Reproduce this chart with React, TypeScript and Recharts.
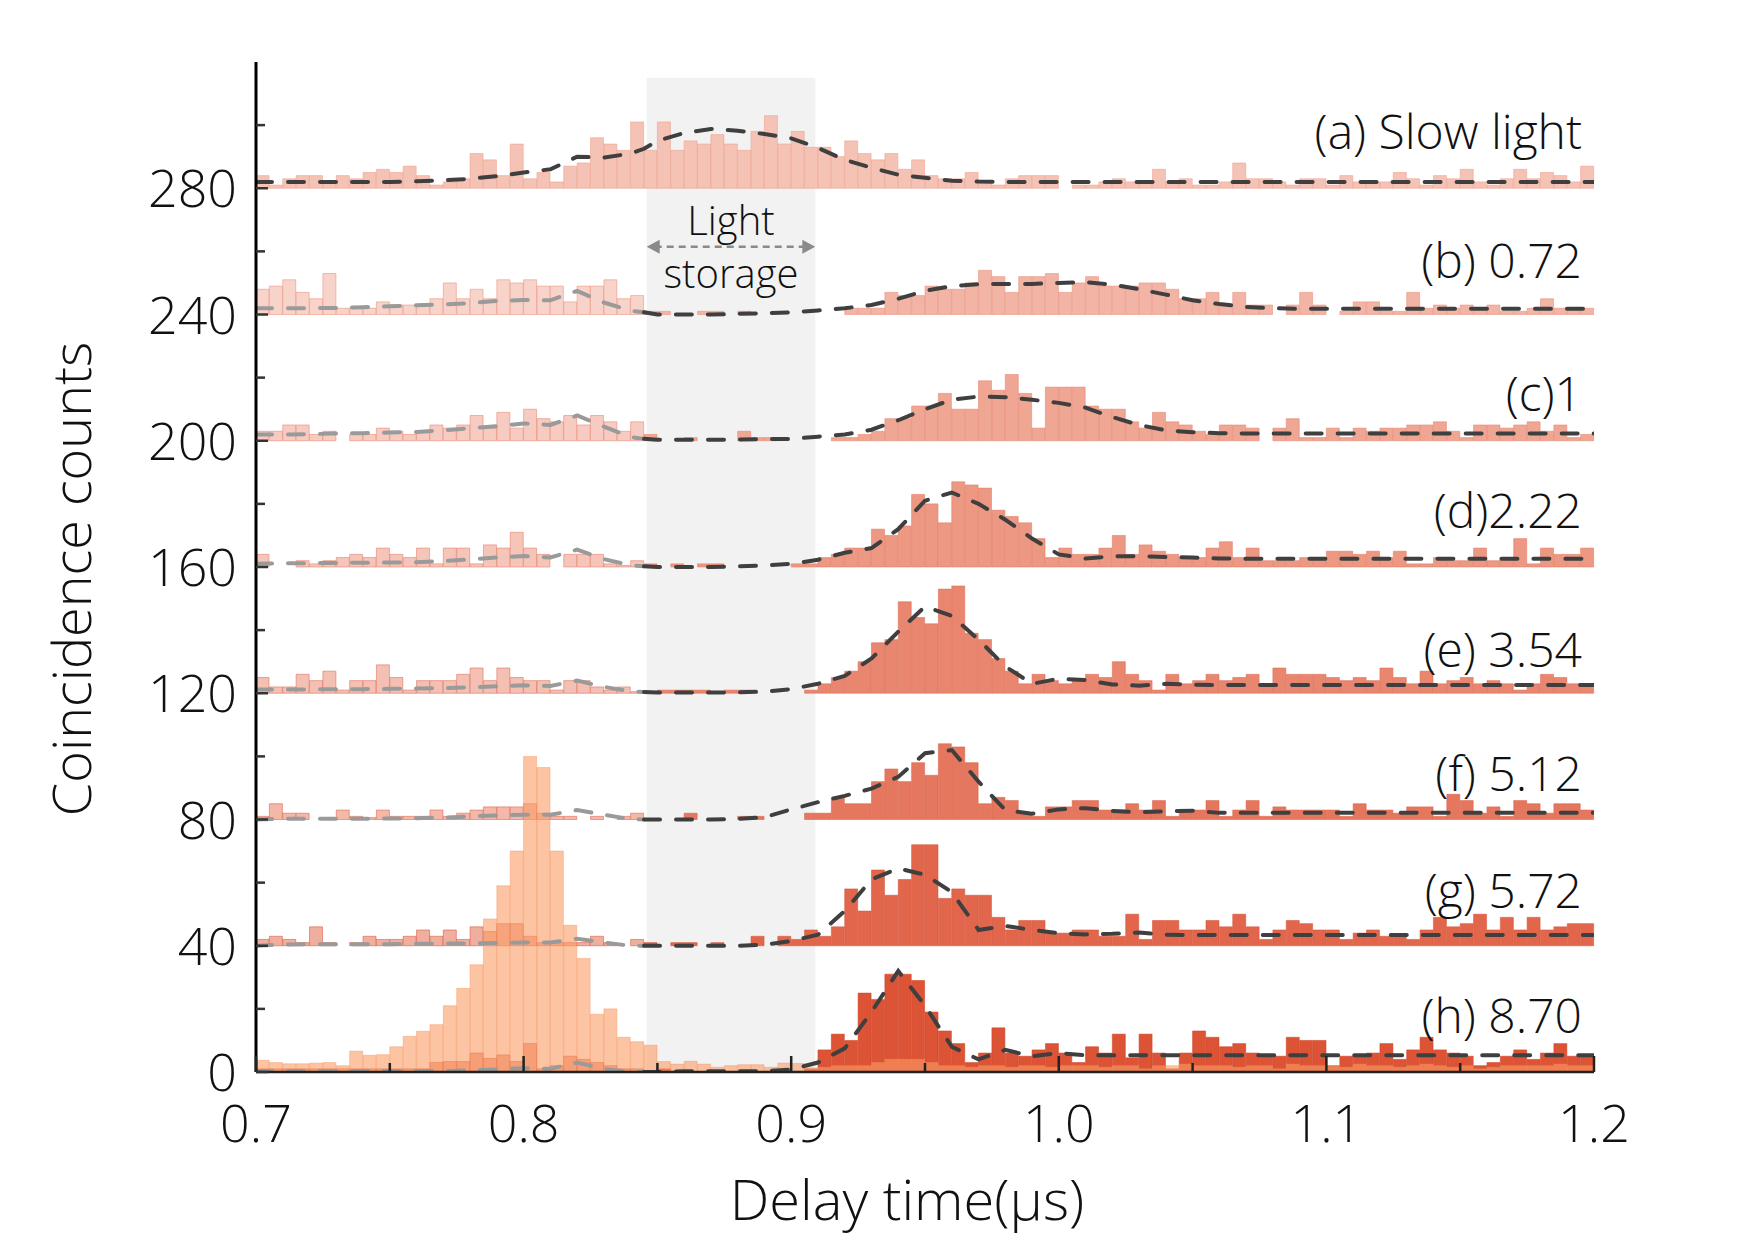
import React from "react";
import {
  ComposedChart,
  Bar,
  Line,
  XAxis,
  YAxis,
  Cell,
  ReferenceArea,
  ReferenceLine,
  ReferenceDot,
} from "recharts";

const FONT = "'Open Sans', 'DejaVu Sans', sans-serif";
const WEIGHT = 300;

// 5 ns histogram bins from 0.70 to 1.20 us; bins left of the storage window are faded
const BIN_COUNT = 100;
const FADED_BEFORE_BIN = 29;

const OFFSETS = [280, 240, 200, 160, 120, 80, 40, 0];
const SERIES_LABELS = ["(a) Slow light", "(b) 0.72", "(c)1", "(d)2.22", "(e) 3.54", "(f) 5.12", "(g) 5.72", "(h) 8.70"];

const COUNTS_A = [
  4, 1, 3, 4, 4, 2, 4, 3, 5, 6, 5, 7, 4, 1, 2, 3, 11, 9, 4, 14, 3, 5, 2, 7, 8, 16, 14, 12, 21, 12,
  21, 12, 15, 14, 17, 14, 12, 18, 23, 14, 18, 13, 13, 10,
  15, 11, 9, 11, 6, 9, 4, 3, 3, 5, 2, 1, 3, 4, 4, 4, 0, 1, 1, 2, 3, 2, 2, 6, 2, 3, 1, 1, 2, 8,
  3, 3, 2, 1, 3, 3, 1, 4, 2, 2, 2, 5, 3, 1, 4, 3, 6, 2, 1, 3, 6, 3, 5, 4, 2, 7,
];
const COUNTS_B = [
  8, 9, 11, 7, 5, 13, 2, 2, 2, 4, 3, 3, 3, 5, 10, 5, 8, 5, 11, 10, 11, 9, 9, 4, 9, 9, 11, 5, 6,
  1, 1, 0, 0, 1, 1, 0, 1, 0, 0, 0, 0, 0, 0, 0,
  2, 2, 2, 7, 6, 6, 9, 8, 8, 10, 14, 12, 7, 12, 12, 13, 7, 10, 12, 9, 9, 9, 10, 10, 8, 5, 5, 7, 3, 7,
  3, 3, 0, 3, 7, 3, 0, 1, 4, 4, 1, 1, 7, 2, 3, 2, 3, 2, 3, 1, 1, 2, 5, 2, 2, 2,
];
const COUNTS_C = [
  3, 3, 5, 5, 2, 3, 0, 2, 2, 4, 3, 2, 3, 5, 4, 5, 8, 4, 9, 4, 10, 7, 6, 8, 5, 8, 6, 3, 6,
  2, 0, 0, 1, 0, 0, 0, 3, 1, 1, 0, 0, 0, 0, 1,
  1, 2, 3, 7, 7, 11, 11, 15, 10, 10, 19, 16, 21, 15, 4, 17, 17, 17, 11, 10, 10, 6, 4, 9, 6, 5, 3, 2, 5, 5,
  4, 0, 4, 7, 1, 1, 4, 1, 4, 3, 4, 4, 5, 5, 6, 3, 1, 5, 5, 4, 5, 6, 3, 5, 1, 2,
];
const COUNTS_D = [
  4, 0, 0, 2, 1, 2, 3, 4, 3, 6, 4, 3, 6, 1, 6, 6, 1, 7, 6, 11, 6, 4, 0, 4, 4, 4, 1, 0.5, 2,
  1, 0, 1, 0, 1, 1, 0, 0, 0, 0, 0, 1, 1, 3, 4,
  6, 6, 12, 10, 13, 23, 20, 14, 27, 26, 25, 18, 16, 14, 9, 3, 6, 4, 4, 6, 10, 4, 7, 5, 4, 3, 3, 6, 8, 3,
  6, 2, 2, 2, 3, 3, 5, 5, 4, 5, 3, 5, 1, 1, 3, 2, 2, 6, 2, 3, 9, 1, 6, 4, 4, 6,
];
const COUNTS_E = [
  5, 2, 2, 6, 4, 7, 1, 4, 4, 9, 5, 1, 4, 4, 4, 6, 8, 4, 8, 5, 4, 4, 1, 4, 4, 2, 1, 2, 0.5,
  0, 1, 1, 1, 1, 0, 1, 1, 0, 0, 0, 0, 1, 3, 5,
  7, 10, 16, 17, 29, 24, 22, 33, 34, 19, 17, 11, 7, 3, 6, 4, 3, 4, 6, 5, 10, 6, 4, 1, 6, 3, 4, 6, 4, 5,
  6, 3, 8, 6, 6, 6, 5, 4, 5, 4, 8, 5, 3, 7, 3, 4, 5, 3, 4, 3, 1, 3, 6, 5, 3, 3,
];
const COUNTS_F = [
  1, 5, 2, 2, 0, 0, 3, 1, 0.6, 3, 1, 1, 1, 3, 1, 2, 3, 4, 4, 4, 5, 2, 1, 1, 0, 1, 0, 1, 2,
  0, 0, 0, 2, 0, 0, 0, 1, 1, 0, 0, 0, 2, 2, 7,
  5, 5, 12, 16, 12, 18, 14, 24, 23, 18, 5, 7, 6, 2, 1, 4, 4, 6, 6, 3, 3, 5, 3, 6, 1, 3, 3, 6, 1, 3,
  6, 1, 4, 3, 3, 3, 3, 1, 5, 3, 3, 2, 4, 4, 1, 8, 6, 2, 4, 1, 6, 5, 2, 5, 5, 3,
];
const COUNTS_G = [
  2, 3, 2, 1, 6, 1, 0, 1, 3, 2, 2, 3, 5, 3, 5, 2, 6, 4.5, 7, 7, 3, 1, 1, 1, 1, 3, 1, 0, 2,
  1, 0, 1, 1, 0, 1, 0, 0, 3, 0, 3, 2, 5, 3, 6,
  18, 11, 24, 16, 21, 32, 32, 15, 18, 16, 16, 9, 5, 8, 8, 4, 4, 5, 5, 3, 3, 10, 2, 8, 8, 5, 5, 8, 6, 10,
  6, 2, 5, 8, 7, 5, 5, 2, 4, 5, 3, 3, 2, 5, 9, 6, 7, 10, 5, 9, 5, 9, 5, 6, 7, 7,
];
const COUNTS_H = [
  1, 1, 1, 1, 1, 1, 1, 1, 1, 1, 1, 1, 1, 3, 3.3, 3.3, 6, 4.3, 5.4, 3.3, 9, 1, 2, 5, 4, 3, 2, 1, 1,
  0, 1, 0, 0, 0, 0, 0, 0, 0, 0, 0, 0, 1, 7, 12,
  10, 25, 23, 31, 31, 29, 19, 13, 9, 3, 6, 14, 6, 5, 7, 9, 6, 3, 8, 6, 12, 4.5, 12, 6, 1, 6, 13, 11, 8, 9,
  6, 5, 5, 11, 10, 10, 2, 5, 5, 6, 9, 4, 7, 11, 7, 6, 5, 2, 3, 5, 7, 4, 6, 9, 5, 5,
];
// input (reference) pulse, drawn over the (h) trace
const COUNTS_PROBE = [
  3.7, 3, 2.6, 2.6, 2.8, 3, 2, 6.6, 5.3, 5.5, 8, 11.3, 12.9,
  15, 21, 26.5, 34, 48.5, 59, 70, 100, 96.5, 70, 46.5, 36, 18.3, 20, 11, 9.6, 8.5,
  3.3, 2.5, 3.4, 2.5, 1.5, 2, 2.3, 2.3, 1.5, 2.8, 2.7, 1.3, 1.5, 2,
  2, 2, 3, 4, 4, 4, 3, 2, 2, 1.5, 2, 2, 1.5, 2, 2, 1.5, 2, 2, 2, 1.5, 2, 2, 1, 2, 2, 2.5, 2, 2, 2, 1.5,
  2, 2, 1, 2.5, 2, 2, 2, 1.5, 2.5, 2, 2, 1.5, 2, 2.5, 2, 1.5, 2, 1, 1.5, 2, 2, 2, 2, 2.5, 2, 2,
];

// fitted curves, sampled every 10 ns (plus the storage-window edge at 0.845)
const FIT_X = [
  0.7, 0.71, 0.72, 0.73, 0.74, 0.75, 0.76, 0.77, 0.78, 0.79, 0.8, 0.81, 0.82, 0.83, 0.84, 0.845,
  0.85, 0.86, 0.87, 0.88, 0.89, 0.9, 0.91, 0.92, 0.93, 0.94, 0.95, 0.96, 0.97, 0.98, 0.99, 1.0,
  1.01, 1.02, 1.03, 1.04, 1.05, 1.06, 1.07, 1.08, 1.09, 1.1, 1.11, 1.12, 1.13, 1.14, 1.15, 1.16,
  1.17, 1.18, 1.19, 1.2,
];
const FIT_A = [
  2, 2, 2, 2, 2, 2, 2.2, 2.5, 3, 3.8, 5, 6, 10, 9.7, 11, 12.5,
  15, 17.5, 18.8, 18.2, 17.2, 15.8, 12.8, 9, 6.5, 4.3, 3.3, 2.4, 2.1, 2, 2, 2,
  2, 2, 2, 2, 2, 2, 2, 2, 2, 2, 2, 2, 2, 2, 2, 2, 2, 2, 2, 2,
];
const FIT_B = [
  2, 2, 2, 2.1, 2.3, 2.6, 2.9, 3.2, 3.6, 4.3, 4.6, 4.5, 7.5, 3.8, 1.2, 0.7,
  0, 0, 0, 0.2, 0.4, 0.7, 1.3, 2, 3, 5, 7.5, 9, 9.6, 9.7, 9.7, 10,
  10.2, 9.5, 8, 6.3, 4.5, 3.3, 2.4, 2, 1.8, 1.8, 1.8, 1.8, 1.8, 1.8, 1.8, 1.8, 1.8, 1.8, 1.8, 1.8,
];
const FIT_C = [
  2, 2, 2.1, 2.3, 2.4, 2.6, 2.8, 3.3, 4, 4.6, 5.5, 5, 8, 4.5, 1.2, 0.6,
  0.3, 0.3, 0.3, 0.4, 0.5, 0.6, 1.3, 2, 3.5, 6.5, 10, 13, 14, 13.8, 13, 12,
  10.5, 7.5, 5, 3.3, 2.7, 2.4, 2.3, 2.3, 2.3, 2.3, 2.3, 2.3, 2.3, 2.3, 2.3, 2.3, 2.3, 2.3, 2.3, 2.3,
];
const FIT_D = [
  1.05, 1.2, 1.2, 1.3, 1.35, 1.4, 1.5, 1.9, 2.4, 3, 3.5, 3, 5.5, 2.5, 0.5, 0.2,
  0, 0, 0, 0.2, 0.5, 1, 2.3, 4.5, 6, 12, 21, 23.6, 20, 15, 9, 4,
  2.7, 3.4, 3.4, 3.2, 3, 2.7, 2.6, 2.6, 2.6, 2.6, 2.6, 2.6, 2.6, 2.6, 2.6, 2.6, 2.6, 2.6, 2.6, 2.6,
];
const FIT_E = [
  1.2, 1.2, 1.2, 1.3, 1.3, 1.4, 1.5, 1.6, 1.9, 2.2, 2.5, 2.3, 4, 2, 0.6, 0.4,
  0.2, 0.2, 0.2, 0.3, 0.5, 1.3, 3, 5.5, 11, 19.5, 27.5, 24.5, 17, 8.5, 3, 4.6,
  4.2, 2.8, 2.4, 3, 2.7, 2.6, 2.6, 2.6, 2.6, 2.6, 2.6, 2.6, 2.6, 2.6, 2.6, 2.6, 2.6, 2.6, 2.6, 2.6,
];
const FIT_F = [
  0, 0.2, 0.2, 0.2, 0.2, 0.3, 0.4, 0.6, 1, 1.3, 1.5, 1.5, 3, 1.5, 0.1, 0,
  0, 0, 0, 0.2, 0.7, 3.2, 5.5, 7.5, 9.8, 13.5, 21, 22, 12, 3, 1.8, 3.2,
  3.6, 2.7, 2.3, 2.6, 2.8, 2.1, 2.1, 2.1, 2.1, 2.1, 2.1, 2.1, 2.1, 2.1, 2.1, 2.1, 2.1, 2.1, 2.1, 2.1,
];
const FIT_G = [
  0, 0.4, 0.5, 0.5, 0.5, 0.5, 0.6, 0.7, 0.7, 0.9, 1, 1, 2.2, 1, 0, 0,
  0, 0, 0, 0, 0.3, 1.5, 3.5, 11, 21, 24.5, 22.5, 17, 5, 6.3, 5, 4,
  3.6, 3.8, 4.2, 3.5, 3.4, 3.4, 3.4, 3.4, 3.4, 3.4, 3.4, 3.4, 3.4, 3.4, 3.4, 3.4, 3.4, 3.4, 3.4, 3.4,
];
const FIT_H = [
  0.3, 0.3, 0.3, 0.3, 0.3, 0.3, 0.3, 0.3, 0.5, 0.8, 1.2, 1, 3, 1, 0, 0,
  0, 0.2, 0.2, 0.2, 0.2, 0.8, 3, 7.5, 19, 32, 21, 8, 4, 7, 5, 6,
  5.3, 5.3, 5.3, 5.3, 5.3, 5.3, 5.3, 5.3, 5.3, 5.3, 5.3, 5.3, 5.3, 5.3, 5.3, 5.3, 5.3, 5.3, 5.3, 5.3,
];

const X_TICKS = [0.7, 0.75, 0.8, 0.85, 0.9, 0.95, 1.0, 1.05, 1.1, 1.15, 1.2];
const Y_TICKS = [0, 20, 40, 60, 80, 100, 120, 140, 160, 180, 200, 220, 240, 260, 280, 300];

const SERIES = [
  { key: "a", counts: COUNTS_A, fit: FIT_A, full: "#f5c3b6", faded: "#f5c3b6", edge: "#ee9c89" },
  { key: "b", counts: COUNTS_B, fit: FIT_B, full: "#f2b4a5", faded: "#f8d3ca", edge: "#ea907b" },
  { key: "c", counts: COUNTS_C, fit: FIT_C, full: "#efa693", faded: "#f7cbc1", edge: "#e8846d" },
  { key: "d", counts: COUNTS_D, fit: FIT_D, full: "#ec9883", faded: "#f6c5ba", edge: "#e47a62" },
  { key: "e", counts: COUNTS_E, fit: FIT_E, full: "#e9866f", faded: "#f4c0b4", edge: "#df6c53" },
  { key: "f", counts: COUNTS_F, fit: FIT_F, full: "#e6775f", faded: "#f3b8aa", edge: "#dc6147" },
  { key: "g", counts: COUNTS_G, fit: FIT_G, full: "#e2664b", faded: "#f0ae9f", edge: "#d75339" },
  { key: "h", counts: COUNTS_H, fit: FIT_H, full: "#dc5335", faded: "#eea392", edge: "#cf4427" },
];

const LABEL_RISE = [12.5, 11.7, 9.5, 12.3, 8.3, 8.9, 12, 12.3];

const binRows = Array.from({ length: BIN_COUNT }, (_, i) => {
  const row: any = { bin: i, p: [0, COUNTS_PROBE[i]] };
  SERIES.forEach((s, k) => {
    row[s.key] = [OFFSETS[k], OFFSETS[k] + s.counts[i]];
  });
  return row;
});

const fitPoints = (fit: number[], offset: number) =>
  FIT_X.map((x, j) => ({ x, y: offset + fit[j] }));

const YTick = (p: any) => {
  const v = p.payload.value;
  const major = v % 40 === 0;
  return (
    <g>
      <line x1={p.x} x2={p.x + (major ? 12 : 9)} y1={p.y} y2={p.y} stroke="#333" strokeWidth={2.5} />
      {major && (
        <text x={p.x - 19} y={p.y + 19} textAnchor="end" fontSize={52} fontFamily={FONT} fontWeight={WEIGHT} fill="#111">
          {v}
        </text>
      )}
    </g>
  );
};

const XTick = (p: any) => {
  const v = p.payload.value;
  const major = Math.abs(v * 10 - Math.round(v * 10)) < 1e-6;
  return (
    <g>
      <line x1={p.x} x2={p.x} y1={p.y} y2={p.y - (major ? 16 : 9)} stroke="#222" strokeWidth={2.5} />
      {major && (
        <text x={p.x} y={p.y + 70} textAnchor="middle" fontSize={52} fontFamily={FONT} fontWeight={WEIGHT} fill="#111">
          {v.toFixed(1)}
        </text>
      )}
    </g>
  );
};

const yTitle = (p: any) => {
  const vb = p.viewBox;
  const cx = vb.x + 42;
  const cy = vb.y + vb.height / 2 + 12;
  return (
    <text x={cx} y={cy} transform={`rotate(-90 ${cx} ${cy})`} textAnchor="middle" dominantBaseline="central"
      fontSize={54} fontFamily={FONT} fontWeight={WEIGHT} fill="#111">
      Coincidence counts
    </text>
  );
};

const xTitle = (p: any) => {
  const vb = p.viewBox;
  return (
    <text x={vb.x + vb.width / 2 - 18} y={vb.y + 148} textAnchor="middle" fontSize={56} fontFamily={FONT}
      fontWeight={WEIGHT} fill="#111">
      Delay time(μs)
    </text>
  );
};

const textShape = (label: string, anchor: string, size: number) => (p: any) => (
  <text x={p.cx} y={p.cy} textAnchor={anchor} fontSize={size} fontFamily={FONT} fontWeight={WEIGHT} fill="#111">
    {label}
  </text>
);

const arrowHead = (dir: number) => (p: any) => (
  <polygon
    points={`${p.cx},${p.cy} ${p.cx + dir * 13},${p.cy - 7} ${p.cx + dir * 13},${p.cy + 7}`}
    fill="#8a8a8a"
  />
);

export default function App() {
  const dash = "16 16";
  return (
    <ComposedChart
      width={1739}
      height={1230}
      data={binRows}
      margin={{ top: 54, right: 153, bottom: 56, left: 20 }}
      barCategoryGap={0}
      barGap={0}
    >
      {SERIES.map((s) => (
        <XAxis key={`ax-${s.key}`} xAxisId={s.key} dataKey="bin" type="category" hide height={0} />
      ))}
      <XAxis xAxisId="p" dataKey="bin" type="category" hide height={0} />
      <XAxis
        xAxisId="num"
        dataKey="x"
        type="number"
        domain={[0.7, 1.2]}
        allowDataOverflow
        ticks={X_TICKS}
        interval={0}
        tick={<XTick />}
        tickLine={false}
        tickSize={0}
        tickMargin={0}
        axisLine={{ stroke: "#222", strokeWidth: 2.5 }}
        height={110}
        label={xTitle}
      />
      <YAxis
        type="number"
        domain={[0, 320]}
        allowDataOverflow
        ticks={Y_TICKS}
        interval={0}
        tick={<YTick />}
        tickLine={false}
        tickSize={0}
        tickMargin={0}
        width={228}
        axisLine={{ stroke: "#000", strokeWidth: 3 }}
        label={yTitle}
      />

      <ReferenceArea xAxisId="num" x1={0.846} x2={0.909} y1={0} y2={315} fill="#ededed" fillOpacity={0.75} stroke="none" />

      {SERIES.map((s) => (
        <Bar key={`bar-${s.key}`} xAxisId={s.key} dataKey={s.key} isAnimationActive={false}
          stroke={s.edge} strokeWidth={1} strokeOpacity={0.55}>
          {binRows.map((_, i) => (
            <Cell key={i} fill={i < FADED_BEFORE_BIN ? s.faded : s.full} />
          ))}
        </Bar>
      ))}
      <Bar xAxisId="p" dataKey="p" isAnimationActive={false} fill="#fb9d66" fillOpacity={0.6}
        stroke="#f58f58" strokeWidth={1} strokeOpacity={0.4} />

      {SERIES.map((s, k) => {
        const pts = fitPoints(s.fit, OFFSETS[k]);
        if (k === 0) {
          return (
            <Line key={`fit-${s.key}`} xAxisId="num" data={pts} dataKey="y" type="linear" dot={false}
              stroke="#3f3f3f" strokeWidth={4} strokeDasharray={dash} strokeLinecap="round" isAnimationActive={false} />
          );
        }
        return (
          <React.Fragment key={`fit-${s.key}`}>
            <Line xAxisId="num" data={pts.filter((p) => p.x <= 0.8451)} dataKey="y" type="linear" dot={false}
              stroke="#9a9a9a" strokeWidth={4} strokeDasharray={dash} strokeLinecap="round" isAnimationActive={false} />
            <Line xAxisId="num" data={pts.filter((p) => p.x >= 0.8449)} dataKey="y" type="linear" dot={false}
              stroke="#3f3f3f" strokeWidth={4} strokeDasharray={dash} strokeLinecap="round" isAnimationActive={false} />
          </React.Fragment>
        );
      })}

      <ReferenceLine xAxisId="num" segment={[{ x: 0.849, y: 261.5 }, { x: 0.906, y: 261.5 }]}
        stroke="#8a8a8a" strokeWidth={2.5} strokeDasharray="7 5" />
      <ReferenceDot xAxisId="num" x={0.846} y={261.5} r={0} shape={arrowHead(1)} />
      <ReferenceDot xAxisId="num" x={0.909} y={261.5} r={0} shape={arrowHead(-1)} />
      <ReferenceDot xAxisId="num" x={0.8775} y={265.2} r={0} shape={textShape("Light", "middle", 40)} />
      <ReferenceDot xAxisId="num" x={0.8775} y={248.3} r={0} shape={textShape("storage", "middle", 40)} />

      {SERIES_LABELS.map((label, k) => (
        <ReferenceDot key={`lab-${k}`} xAxisId="num" x={1.1955} y={OFFSETS[k] + LABEL_RISE[k]} r={0}
          shape={textShape(label, "end", 48)} />
      ))}
    </ComposedChart>
  );
}
